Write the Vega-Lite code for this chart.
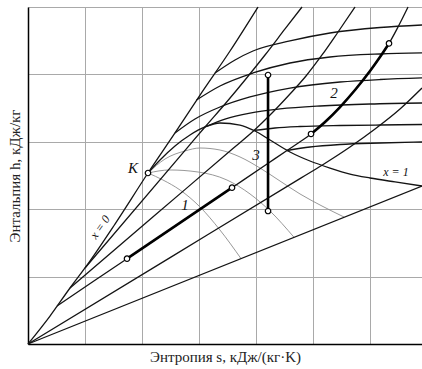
{
"$schema":"https://vega.github.io/schema/vega-lite/v6.json",
"width":394,"height":337,
"autosize":{"type":"none"},
"padding":{"left":28,"top":7,"right":0,"bottom":25},
"background":"white",
"config":{"view":{"stroke":null},"font":"Liberation Serif",
 "axis":{"grid":true,"gridColor":"#a9a9a9","gridWidth":1,"domainColor":"#000","domainWidth":1.5,"ticks":false,"labels":false,"titleFont":"Liberation Serif","titleFontSize":15,"titleFontWeight":"normal","titleColor":"#222"},
 "axisX":{"titlePadding":5},"axisY":{"titlePadding":6}},
"datasets":{
"black":[
{"c":"crit","o":1,"s":0,"h":0},{"c":"crit","o":2,"s":0.386,"h":0.415},{"c":"crit","o":3,"s":0.737,"h":0.831},{"c":"crit","o":4,"s":1.0,"h":1.128},{"c":"crit","o":5,"s":1.526,"h":1.78},{"c":"crit","o":6,"s":2.105,"h":2.537},{"c":"crit","o":7,"s":2.579,"h":3.131},{"c":"crit","o":8,"s":3.018,"h":3.694},{"c":"crit","o":9,"s":3.544,"h":4.347},{"c":"crit","o":10,"s":4.035,"h":5.0},
{"c":"x1","o":1,"s":2.105,"h":2.537},{"c":"x1","o":2,"s":2.316,"h":2.73},{"c":"x1","o":3,"s":2.579,"h":2.938},{"c":"x1","o":4,"s":2.842,"h":3.101},{"c":"x1","o":5,"s":3.105,"h":3.22},{"c":"x1","o":6,"s":3.368,"h":3.279},{"c":"x1","o":7,"s":3.719,"h":3.249},{"c":"x1","o":8,"s":3.982,"h":3.16},{"c":"x1","o":9,"s":4.246,"h":3.027},{"c":"x1","o":10,"s":4.596,"h":2.849},{"c":"x1","o":11,"s":4.947,"h":2.715},{"c":"x1","o":12,"s":5.298,"h":2.611},{"c":"x1","o":13,"s":5.649,"h":2.522},{"c":"x1","o":14,"s":6.0,"h":2.463},{"c":"x1","o":15,"s":6.439,"h":2.404},{"c":"x1","o":16,"s":6.912,"h":2.344},
{"c":"w1","o":1,"s":0,"h":0},{"c":"w1","o":2,"s":6.912,"h":2.344},
{"c":"w2","o":1,"s":0,"h":0},{"c":"w2","o":2,"s":2.5,"h":1.286},{"c":"w2","o":3,"s":4.8,"h":2.469},{"c":"w2","o":4,"s":5.158,"h":2.653},{"c":"w2","o":5,"s":5.649,"h":2.923},{"c":"w2","o":6,"s":6.088,"h":3.19},{"c":"w2","o":7,"s":6.526,"h":3.487},{"c":"w2","o":8,"s":6.912,"h":3.798},
{"c":"w3","o":1,"s":0.509,"h":0.564},{"c":"w3","o":2,"s":1.737,"h":1.266},{"c":"w3","o":3,"s":3.579,"h":2.319},{"c":"w3","o":4,"s":4.2,"h":2.674},{"c":"w3","o":5,"s":4.544,"h":2.871},{"c":"w3","o":6,"s":4.754,"h":2.99},{"c":"w3","o":7,"s":4.965,"h":3.116},{"c":"w3","o":8,"s":5.211,"h":3.294},{"c":"w3","o":9,"s":5.474,"h":3.516},{"c":"w3","o":10,"s":5.737,"h":3.769},{"c":"w3","o":11,"s":6.0,"h":4.05},{"c":"w3","o":12,"s":6.175,"h":4.258},{"c":"w3","o":13,"s":6.333,"h":4.459},{"c":"w3","o":14,"s":6.491,"h":4.703},{"c":"w3","o":15,"s":6.667,"h":5.0},
{"c":"w4","o":1,"s":0.737,"h":0.831},{"c":"w4","o":2,"s":2.2,"h":1.89},{"c":"w4","o":3,"s":3.6,"h":2.904},{"c":"w4","o":4,"s":3.965,"h":3.168},{"c":"w4","o":5,"s":4.281,"h":3.427},{"c":"w4","o":6,"s":4.596,"h":3.709},{"c":"w4","o":7,"s":4.877,"h":3.976},{"c":"w4","o":8,"s":5.158,"h":4.288},{"c":"w4","o":9,"s":5.439,"h":4.629},{"c":"w4","o":10,"s":5.737,"h":5.0},
{"c":"w5","o":1,"s":1.0,"h":1.128},{"c":"w5","o":2,"s":2.8,"h":2.917},{"c":"w5","o":3,"s":3.105,"h":3.22},{"c":"w5","o":4,"s":3.456,"h":3.561},{"c":"w5","o":5,"s":3.807,"h":3.917},{"c":"w5","o":6,"s":4.158,"h":4.288},{"c":"w5","o":7,"s":4.509,"h":4.674},{"c":"w5","o":8,"s":4.807,"h":5.0},
{"c":"t142","o":1,"s":4.544,"h":2.871},{"c":"t142","o":2,"s":4.947,"h":2.923},{"c":"t142","o":3,"s":5.474,"h":2.96},{"c":"t142","o":4,"s":6.175,"h":2.982},{"c":"t142","o":5,"s":6.912,"h":2.997},
{"c":"t125","o":1,"s":3.965,"h":3.168},{"c":"t125","o":2,"s":4.333,"h":3.205},{"c":"t125","o":3,"s":4.772,"h":3.227},{"c":"t125","o":4,"s":5.474,"h":3.242},{"c":"t125","o":5,"s":6.175,"h":3.249},{"c":"t125","o":6,"s":6.912,"h":3.257},
{"c":"t103","o":1,"s":3.105,"h":3.22},{"c":"t103","o":2,"s":3.456,"h":3.338},{"c":"t103","o":3,"s":3.895,"h":3.427},{"c":"t103","o":4,"s":4.421,"h":3.487},{"c":"t103","o":5,"s":5.123,"h":3.531},{"c":"t103","o":6,"s":6.0,"h":3.561},{"c":"t103","o":7,"s":6.912,"h":3.576},
{"c":"t78","o":1,"s":2.579,"h":3.131},{"c":"t78","o":2,"s":2.93,"h":3.338},{"c":"t78","o":3,"s":3.368,"h":3.516},{"c":"t78","o":4,"s":3.895,"h":3.665},{"c":"t78","o":5,"s":4.596,"h":3.798},{"c":"t78","o":6,"s":5.474,"h":3.887},{"c":"t78","o":7,"s":6.175,"h":3.924},{"c":"t78","o":8,"s":6.912,"h":3.947},
{"c":"t53","o":1,"s":2.956,"h":3.62},{"c":"t53","o":2,"s":3.368,"h":3.828},{"c":"t53","o":3,"s":3.947,"h":4.021},{"c":"t53","o":4,"s":4.596,"h":4.169},{"c":"t53","o":5,"s":5.298,"h":4.258},{"c":"t53","o":6,"s":6.175,"h":4.303},{"c":"t53","o":7,"s":6.912,"h":4.318},
{"c":"t25","o":1,"s":3.281,"h":4.021},{"c":"t25","o":2,"s":3.632,"h":4.214},{"c":"t25","o":3,"s":3.947,"h":4.347},{"c":"t25","o":4,"s":4.596,"h":4.496},{"c":"t25","o":5,"s":5.298,"h":4.614},{"c":"t25","o":6,"s":6.175,"h":4.696},{"c":"t25","o":7,"s":6.912,"h":4.733}
],
"gray":[
{"c":"g1","o":1,"s":2.105,"h":2.537},{"c":"g1","o":2,"s":2.404,"h":2.745},{"c":"g1","o":3,"s":2.754,"h":2.864},{"c":"g1","o":4,"s":3.018,"h":2.908},{"c":"g1","o":5,"s":3.368,"h":2.878},{"c":"g1","o":6,"s":3.719,"h":2.775},{"c":"g1","o":7,"s":4.07,"h":2.611},{"c":"g1","o":8,"s":4.421,"h":2.418},{"c":"g1","o":9,"s":4.772,"h":2.226},{"c":"g1","o":10,"s":5.158,"h":2.047},{"c":"g1","o":11,"s":5.544,"h":1.884},
{"c":"g2","o":1,"s":2.105,"h":2.537},{"c":"g2","o":2,"s":2.491,"h":2.582},{"c":"g2","o":3,"s":2.982,"h":2.552},{"c":"g2","o":4,"s":3.491,"h":2.433},{"c":"g2","o":5,"s":3.895,"h":2.226},{"c":"g2","o":6,"s":4.246,"h":1.973},{"c":"g2","o":7,"s":4.667,"h":1.583},
{"c":"g3","o":1,"s":2.105,"h":2.537},{"c":"g3","o":2,"s":2.368,"h":2.433},{"c":"g3","o":3,"s":2.667,"h":2.285},{"c":"g3","o":4,"s":3.018,"h":2.033},{"c":"g3","o":5,"s":3.368,"h":1.691},{"c":"g3","o":6,"s":3.737,"h":1.267}
],
"proc":[
{"c":"p1","o":1,"s":1.737,"h":1.266},{"c":"p1","o":2,"s":3.579,"h":2.319},
{"c":"p2","o":1,"s":4.965,"h":3.116},{"c":"p2","o":2,"s":5.211,"h":3.294},{"c":"p2","o":3,"s":5.474,"h":3.516},{"c":"p2","o":4,"s":5.737,"h":3.769},{"c":"p2","o":5,"s":6.0,"h":4.05},{"c":"p2","o":6,"s":6.175,"h":4.258},{"c":"p2","o":7,"s":6.333,"h":4.459},
{"c":"p3","o":1,"s":4.211,"h":3.991},{"c":"p3","o":2,"s":4.211,"h":1.973}
],
"pts":[{"s":2.105,"h":2.537},{"s":1.737,"h":1.266},{"s":3.579,"h":2.319},{"s":4.965,"h":3.116},{"s":6.333,"h":4.459},{"s":4.211,"h":3.991},{"s":4.211,"h":1.973}],
"lab":[{"t":"K","s":1.842,"h":2.611},{"t":"1","s":2.754,"h":2.062},{"t":"2","s":5.368,"h":3.724},{"t":"3","s":4.0,"h":2.804}],
"lab1":[{"t":"x = 1","s":6.456,"h":2.552}],
"lab0":[{"t":"x = 0","s":1.263,"h":1.736}]
},
"layer":[
{"data":{"name":"gray"},"mark":{"type":"line","stroke":"#8c8c8c","strokeWidth":0.9,"interpolate":"monotone"},
 "encoding":{"x":{"field":"s","type":"quantitative","scale":{"domain":[0,6.912],"nice":false,"zero":false},"axis":{"values":[0,1,2,3,4,5,6],"title":"Энтропия s, кДж/(кг·K)"}},
 "y":{"field":"h","type":"quantitative","scale":{"domain":[0,5],"nice":false,"zero":false},"axis":{"values":[0,1,2,3,4,5],"title":"Энтальпия h, кДж/кг"}},
 "detail":{"field":"c"},"order":{"field":"o"}}},
{"data":{"name":"black"},"mark":{"type":"line","stroke":"#141414","strokeWidth":1.3,"interpolate":"monotone"},
 "encoding":{"x":{"field":"s","type":"quantitative","scale":{"domain":[0,6.912],"nice":false,"zero":false},"axis":{"values":[0,1,2,3,4,5,6],"title":"Энтропия s, кДж/(кг·K)"}},
 "y":{"field":"h","type":"quantitative","scale":{"domain":[0,5],"nice":false,"zero":false},"axis":{"values":[0,1,2,3,4,5],"title":"Энтальпия h, кДж/кг"}},
 "detail":{"field":"c"},"order":{"field":"o"}}},
{"data":{"name":"proc"},"mark":{"type":"line","stroke":"#000","strokeWidth":2.6,"interpolate":"monotone"},
 "encoding":{"x":{"field":"s","type":"quantitative","scale":{"domain":[0,6.912],"nice":false,"zero":false},"axis":{"values":[0,1,2,3,4,5,6],"title":"Энтропия s, кДж/(кг·K)"}},
 "y":{"field":"h","type":"quantitative","scale":{"domain":[0,5],"nice":false,"zero":false},"axis":{"values":[0,1,2,3,4,5],"title":"Энтальпия h, кДж/кг"}},
 "detail":{"field":"c"},"order":{"field":"o"}}},
{"data":{"name":"pts"},"mark":{"type":"point","shape":"circle","size":30,"filled":true,"fill":"white","stroke":"#000","strokeWidth":1.2,"opacity":1},
 "encoding":{"x":{"field":"s","type":"quantitative","scale":{"domain":[0,6.912],"nice":false,"zero":false},"axis":{"values":[0,1,2,3,4,5,6],"title":"Энтропия s, кДж/(кг·K)"}},
 "y":{"field":"h","type":"quantitative","scale":{"domain":[0,5],"nice":false,"zero":false},"axis":{"values":[0,1,2,3,4,5],"title":"Энтальпия h, кДж/кг"}}}},
{"data":{"name":"lab"},"mark":{"type":"text","font":"Liberation Serif","fontStyle":"italic","fontSize":15,"align":"center","baseline":"middle","color":"#111"},
 "encoding":{"x":{"field":"s","type":"quantitative","scale":{"domain":[0,6.912],"nice":false,"zero":false},"axis":{"values":[0,1,2,3,4,5,6],"title":"Энтропия s, кДж/(кг·K)"}},
 "y":{"field":"h","type":"quantitative","scale":{"domain":[0,5],"nice":false,"zero":false},"axis":{"values":[0,1,2,3,4,5],"title":"Энтальпия h, кДж/кг"}},
 "text":{"field":"t"}}},
{"data":{"name":"lab1"},"mark":{"type":"text","font":"Liberation Serif","fontStyle":"italic","fontSize":12,"align":"center","baseline":"middle","color":"#111"},
 "encoding":{"x":{"field":"s","type":"quantitative","scale":{"domain":[0,6.912],"nice":false,"zero":false},"axis":{"values":[0,1,2,3,4,5,6],"title":"Энтропия s, кДж/(кг·K)"}},
 "y":{"field":"h","type":"quantitative","scale":{"domain":[0,5],"nice":false,"zero":false},"axis":{"values":[0,1,2,3,4,5],"title":"Энтальпия h, кДж/кг"}},
 "text":{"field":"t"}}},
{"data":{"name":"lab0"},"mark":{"type":"text","font":"Liberation Serif","fontStyle":"italic","fontSize":12,"align":"center","baseline":"middle","angle":-55,"color":"#111"},
 "encoding":{"x":{"field":"s","type":"quantitative","scale":{"domain":[0,6.912],"nice":false,"zero":false},"axis":{"values":[0,1,2,3,4,5,6],"title":"Энтропия s, кДж/(кг·K)"}},
 "y":{"field":"h","type":"quantitative","scale":{"domain":[0,5],"nice":false,"zero":false},"axis":{"values":[0,1,2,3,4,5],"title":"Энтальпия h, кДж/кг"}},
 "text":{"field":"t"}}}
]
}
